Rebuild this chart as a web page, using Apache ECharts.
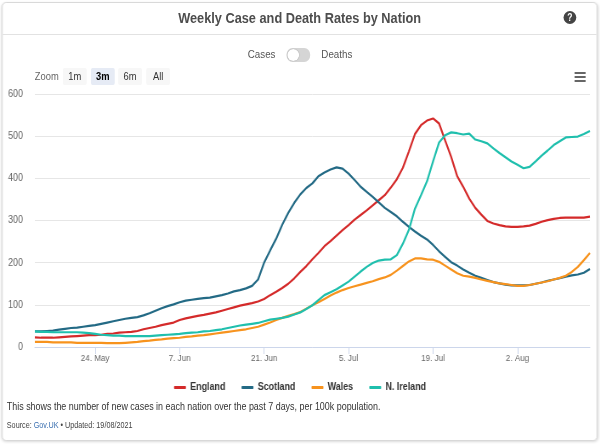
<!DOCTYPE html>
<html>
<head>
<meta charset="utf-8">
<script src="https://cdn.jsdelivr.net/npm/echarts@6/dist/echarts.min.js"></script>
<style>
body{margin:0;background:#fff;overflow:hidden;font-family:'Liberation Sans',Arial,sans-serif;}
/* page is laid out 706px wide and squeezed to 600 like the reference */
#page{position:absolute;left:0;top:0;width:706px;height:444px;transform:scaleX(0.85);transform-origin:0 0;}
#card{position:absolute;left:2px;top:2px;width:699px;height:437px;border:1px solid #d6d6d6;border-radius:5px;box-shadow:0 1px 3px rgba(0,0,0,.15);background:#fff;}
#head{position:absolute;left:3px;top:3px;width:699px;height:31px;border-bottom:1px solid #e2e2e2;text-align:center;line-height:30px;font-weight:bold;font-size:15px;color:#4d4d4d;z-index:3;}
#help{position:absolute;left:663px;top:11px;width:15px;height:13px;border-radius:50%;background:#444;color:#fff;font-size:10px;font-weight:bold;text-align:center;line-height:13px;z-index:3;}
#toggle{position:absolute;left:0;top:48px;width:706px;text-align:center;font-size:11.5px;color:#555;z-index:3;}
#toggle .sw{display:inline-block;vertical-align:middle;width:28px;height:14px;border-radius:8px;background:#d5d5d5;margin:0 13px;position:relative;}
#toggle .sw i{position:absolute;left:1px;top:1px;width:14px;height:12px;border-radius:50%;background:#fff;box-shadow:0 0 1px rgba(0,0,0,.4);}
.zl{position:absolute;top:68px;height:17px;line-height:17px;font-size:11px;color:#666;z-index:3;}
.zb{position:absolute;top:68px;width:28px;height:17px;line-height:17px;text-align:center;font-size:11px;background:#f7f7f7;color:#333;border-radius:2px;z-index:3;}
.zb.on{background:#e6ebf5;font-weight:bold;color:#000;}
#menu{position:absolute;left:676px;top:72px;width:13px;z-index:3;}
#menu i{display:block;height:2px;background:#666;margin-bottom:2px;}
#chart{position:absolute;left:0;top:0;width:706px;height:444px;z-index:2;}
#note{position:absolute;left:8px;top:400px;font-size:10.5px;color:#333;z-index:3;}
#src{position:absolute;left:8px;top:420px;font-size:8.5px;color:#444;z-index:3;}
#src a{color:#3a6fb0;text-decoration:none;}
</style>
</head>
<body>
<div id="page">
<div id="card"></div>
<div id="head">Weekly Case and Death Rates by Nation</div>
<div id="help">?</div>
<div id="toggle">Cases<span class="sw"><i></i></span>Deaths</div>
<div class="zl" style="left:41px;">Zoom</div>
<div class="zb" style="left:74px;">1m</div>
<div class="zb on" style="left:107px;">3m</div>
<div class="zb" style="left:139px;">6m</div>
<div class="zb" style="left:172px;">All</div>
<div id="menu"><i></i><i></i><i></i></div>
<div id="chart"></div>
<div id="note">This shows the number of new cases in each nation over the past 7 days, per 100k population.</div>
<div id="src">Source: <a>Gov.UK</a> &bull; Updated: 19/08/2021</div>
</div>

<script type="text/javascript">
// daily points, 14 May 2021 .. 14 Aug 2021
var startDate = Date.UTC(2021, 4, 14);
var dayCount = 93;
var monthNames = ['Jan','Feb','Mar','Apr','May','Jun','Jul','Aug','Sep','Oct','Nov','Dec'];
var tickLabels = ['24. May','7. Jun','21. Jun','5. Jul','19. Jul','2. Aug'];
var nations = ['England','Scotland','Wales','N. Ireland'];
var colours = ['#d42a2a','#236a85','#f7931e','#1fbfad'];

var england = [23,22,22,22,23,24,25,26,27,28,
  28,29,31,32,34,35,36,38,42,45,
  48,52,55,58,64,68,71,74,76,79,
  82,86,90,94,98,101,104,108,114,123,
  131,140,150,163,178,192,208,223,239,251,
  264,277,289,302,313,324,336,348,360,378,
  398,425,464,505,526,537,542,530,490,451,
  405,380,352,330,314,299,293,289,286,285,
  285,286,288,292,297,301,304,306,307,307,
  307,307,309];
var scotland = [37,37,38,39,41,43,45,46,48,50,
  52,55,58,61,64,67,69,71,75,80,
  86,92,97,101,106,110,112,114,116,117,
  120,123,127,132,135,139,145,160,200,229,
  257,290,318,342,362,377,388,405,414,421,
  426,423,411,396,380,368,356,343,330,320,
  310,297,285,274,264,255,242,227,214,201,
  193,184,176,169,164,159,154,151,148,146,
  146,146,147,150,153,157,160,163,167,170,
  172,176,185];
var wales = [12,12,12,11,11,11,11,10,10,10,
  10,10,9,9,9,10,11,12,14,15,
  17,18,20,21,22,24,25,27,28,30,
  32,34,36,38,40,42,45,48,53,58,
  64,69,74,78,83,91,99,106,114,122,
  129,135,140,144,148,152,156,161,165,171,
  181,192,203,210,210,208,207,202,193,184,
  175,169,167,164,160,157,154,151,149,147,
  145,145,147,150,153,156,160,164,169,178,
  190,206,223];
var nIreland = [37,36,36,35,35,35,35,35,34,33,
  31,29,28,27,27,26,26,26,26,26,
  27,28,29,30,31,33,34,35,37,38,
  40,42,45,48,51,53,55,57,61,65,
  67,69,72,77,82,90,99,111,123,130,
  137,146,155,167,179,190,199,205,207,208,
  218,245,278,328,360,393,440,485,502,509,
  507,504,506,492,488,483,471,460,450,440,
  432,424,427,440,454,466,479,488,497,498,
  499,505,512];

var dates = [];
for (var i = 0; i < dayCount; i++) {
  var d = new Date(startDate + i * 86400000);
  dates.push(d.getUTCDate() + '. ' + monthNames[d.getUTCMonth()]);
}

var seriesValues = [england, scotland, wales, nIreland];
var font = "'Liberation Sans',Arial,sans-serif";

function isTick(idx, val) {
  return tickLabels.indexOf(val) >= 0;
}

var chart = echarts.init(document.getElementById('chart'));
chart.setOption({
  animation: false,
  textStyle: {fontFamily: font},
  color: colours,
  grid: {left: 41, right: 12, top: 94, bottom: 97},
  legend: {
    top: 377,
    left: 'center',
    icon: 'roundRect',
    itemWidth: 14,
    itemHeight: 3,
    itemGap: 19,
    data: nations,
    textStyle: {color: '#333', fontWeight: 'bold', fontSize: 10.5, fontFamily: font}
  },
  xAxis: {
    type: 'category',
    boundaryGap: false,
    data: dates,
    axisLine: {lineStyle: {color: '#ccd6eb'}},
    axisTick: {interval: isTick, length: 7, lineStyle: {color: '#ccd6eb'}},
    axisLabel: {interval: isTick, color: '#666', fontSize: 9.5, margin: 6, fontFamily: font}
  },
  yAxis: {
    type: 'value',
    min: 0,
    max: 600,
    interval: 100,
    axisLine: {show: false},
    axisTick: {show: false},
    splitLine: {lineStyle: {color: '#e6e6e6'}},
    axisLabel: {color: '#666', fontSize: 10.5, margin: 14, fontFamily: font}
  },
  series: nations.map(function (name, k) {
    return {
      name: name,
      type: 'line',
      data: seriesValues[k],
      showSymbol: false,
      symbol: 'none',
      lineStyle: {width: 2.2}
    };
  })
});
</script>
</body>
</html>
